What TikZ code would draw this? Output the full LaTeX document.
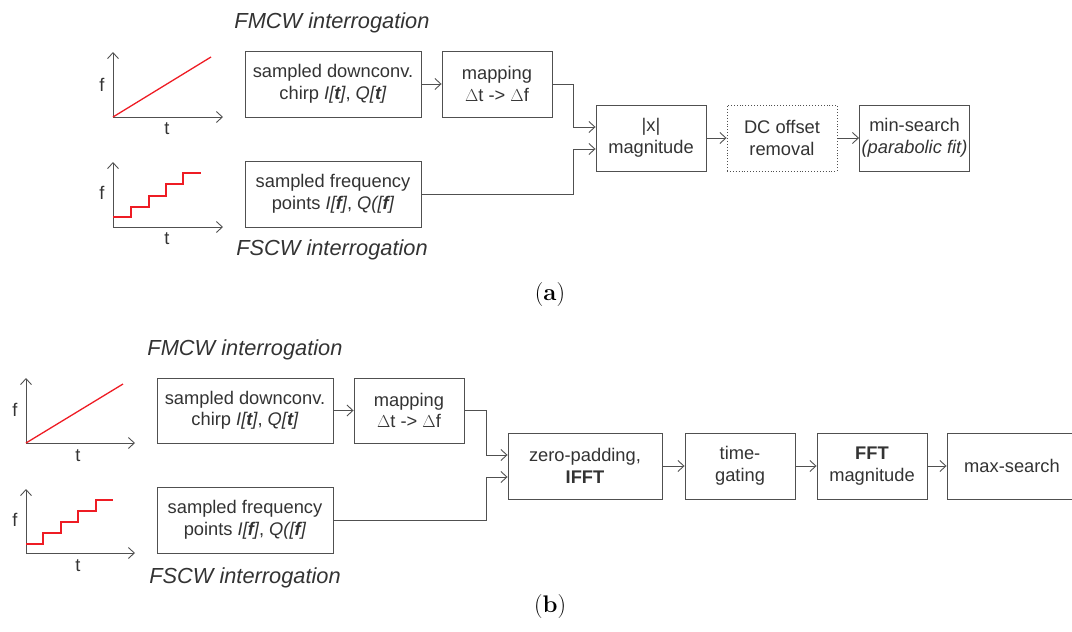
\documentclass[tikz,border=0pt]{standalone}
\usepackage{fontspec}
\setmainfont{Liberation Sans}
\newfontfamily\capfont{Latin Modern Roman}
\usetikzlibrary{arrows.meta}
\definecolor{linec}{HTML}{505050}
\definecolor{txtc}{HTML}{333333}
\definecolor{plotred}{HTML}{EE1C24}
\tikzset{
  blk/.style={draw=linec, line width=0.9pt, minimum height=66pt, align=center, inner sep=0pt, text=txtc, font=\fontsize{18.3}{21.5}\selectfont},
  wblk/.style={blk, minimum width=176pt},
  nblk/.style={blk, minimum width=110pt},
  conn/.style={draw=linec, line width=0.9pt, -{Straight Barb[length=6pt,width=11pt]}},
  axis/.style={draw=linec, line width=0.9pt, -{Straight Barb[length=6pt,width=11pt]}},
  sig/.style={draw=plotred, line width=1.3pt},
  axlbl/.style={text=txtc, font=\fontsize{18.3}{21.5}\selectfont, inner sep=0pt},
  hdr/.style={text=txtc, font=\fontsize{21.8}{24}\selectfont\itshape, inner sep=0pt},
  sublbl/.style={text=black, font=\capfont\fontsize{24}{28}\selectfont, inner sep=0pt}
}
\begin{document}
\begin{tikzpicture}[x=1pt,y=-1pt]
\useasboundingbox (0,0) rectangle (1072,632);
% ---------- (a) ----------
\node[hdr] (ahdr1) at (332,23) {FMCW interrogation};
\node[hdr] (ahdr2) at (332,250) {FSCW interrogation};
% plots
\coordinate (ao1) at (113,117);
\coordinate (ay1) at (113,52);
\coordinate (ax1) at (223,117);
\draw[axis] (ao1) -- (ay1);
\draw[axis] (ao1) -- (ax1);
\draw[sig] (ao1) -- (211,57);
\node[axlbl] (af1) at (102,85) {f};
\node[axlbl] (at1) at (167,129) {t};
\coordinate (ao2) at (113,227);
\coordinate (ay2) at (113,162);
\coordinate (ax2) at (223,227);
\draw[axis] (ao2) -- (ay2);
\draw[axis] (ao2) -- (ax2);
\draw[sig] (113,217) -- (131,217) -- (131,207) -- (149,207) -- (149,196) -- (166,196) -- (166,184) -- (183,184) -- (183,173) -- (201,173);
\node[axlbl] (af2) at (102,193) {f};
\node[axlbl] (at2) at (167,239) {t};
% boxes
\node[wblk] (a1) at (333,84) {sampled downconv.\\chirp \textit{I[\textbf{t}]}, \textit{Q[\textbf{t}]}};
\node[nblk] (a2) at (497,84) {mapping\\$\Delta$t -> $\Delta$f};
\node[wblk] (a3) at (333,194) {sampled frequency\\points \textit{I[\textbf{f}]}, \textit{Q([\textbf{f}]}};
\node[nblk] (a4) at (651,138) {|x|\\magnitude};
\node[nblk, dotted, draw=linec] (a5) at (782,138) {DC offset\\removal};
\node[nblk] (a6) at (914.5,138) {min-search\\\textit{(parabolic fit)}};
\draw[conn] (a1.east) -- (a2.west);
\draw[conn] (a2.east) -- (573,84) -- (573,127) -- ([yshift=11pt]a4.west);
\draw[conn] (a3.east) -- (573,194) -- (573,149) -- ([yshift=-11pt]a4.west);
\draw[conn] (a4) -- (a5);
\draw[conn] (a5) -- (a6);
\node[sublbl] (lbla) at (550,295) {(\textbf{a})};
% ---------- (b) ----------
\node[hdr] (bhdr1) at (245,350) {FMCW interrogation};
\node[hdr] (bhdr2) at (245,578) {FSCW interrogation};
\coordinate (bo1) at (26,443);
\coordinate (by1) at (26,378);
\coordinate (bx1) at (135,443);
\draw[axis] (bo1) -- (by1);
\draw[axis] (bo1) -- (bx1);
\draw[sig] (bo1) -- (123,384);
\node[axlbl] (bf1) at (15,410) {f};
\node[axlbl] (bt1) at (78,456) {t};
\coordinate (bo2) at (26,553);
\coordinate (by2) at (26,489);
\coordinate (bx2) at (135,553);
\draw[axis] (bo2) -- (by2);
\draw[axis] (bo2) -- (bx2);
\draw[sig] (26,544) -- (43,544) -- (43,533) -- (61,533) -- (61,522) -- (78,522) -- (78,511) -- (96,511) -- (96,500) -- (113,500);
\node[axlbl] (bf2) at (15,520) {f};
\node[axlbl] (bt2) at (78,566) {t};
\node[wblk, minimum height=65pt] (b1) at (245,410.5) {sampled downconv.\\chirp \textit{I[\textbf{t}]}, \textit{Q[\textbf{t}]}};
\node[nblk, minimum height=65pt] (b2) at (409,410.5) {mapping\\$\Delta$t -> $\Delta$f};
\node[wblk] (b3) at (245,520) {sampled frequency\\points \textit{I[\textbf{f}]}, \textit{Q([\textbf{f}]}};
\node[blk, minimum width=154pt] (b4) at (585,466) {zero-padding,\\\textbf{IFFT}};
\node[nblk] (b5) at (740,466) {time-\\gating};
\node[nblk] (b6) at (872,466) {\textbf{FFT}\\magnitude};
\node[blk, minimum width=130pt] (b7) at (1012,466) {max-search};
\draw[conn] (b1.east) -- (b2.west);
\draw[conn] (b2.east) -- (486,410.5) -- (486,455) -- ([yshift=11pt]b4.west);
\draw[conn] (b3.east) -- (486,520) -- (486,477) -- ([yshift=-11pt]b4.west);
\draw[conn] (b4) -- (b5);
\draw[conn] (b5) -- (b6);
\draw[conn] (b6) -- (b7);
\node[sublbl] (lblb) at (550,607) {(\textbf{b})};
\end{tikzpicture}
\end{document}
